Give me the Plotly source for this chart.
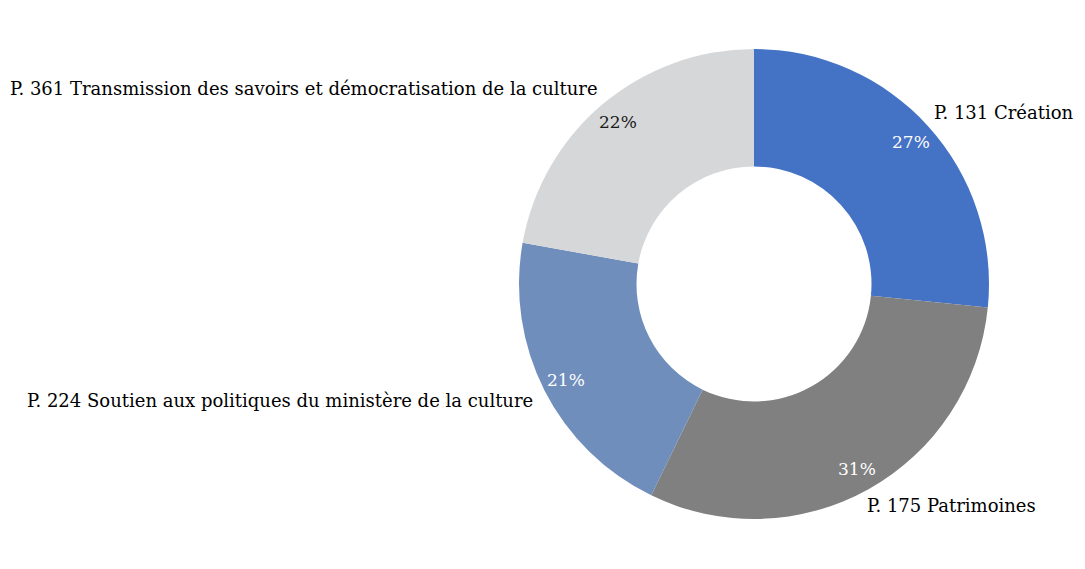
import math
import plotly.graph_objects as go

labels = ["P. 131 Création", "P. 175 Patrimoines",
          "P. 224 Soutien aux politiques du ministère de la culture",
          "P. 361 Transmission des savoirs et démocratisation de la culture"]
values = [26.6, 30.6, 20.6, 22.2]
colors = ["#4472C4", "#808080", "#6F8EBC", "#D6D7D9"]
pct_colors = ["white", "white", "white", "#1a1a1a"]

W, H = 1085, 569
cx, cy, R = 754, 284, 235
FONT = "DejaVu Serif"

fig = go.Figure(go.Pie(
    labels=labels, values=values, sort=False, direction="clockwise", rotation=0,
    hole=0.5, marker=dict(colors=colors, line=dict(width=0)),
    textinfo="none", hoverinfo="label+percent", showlegend=False,
    domain=dict(x=[(cx - R) / W, (cx + R) / W], y=[1 - (cy + R) / H, 1 - (cy - R) / H]),
))

# percentage labels at the slice mid-angle, near the outer edge
total = sum(values)
cum = 0
for v, col in zip(values, pct_colors):
    mid = (cum + v / 2) / total * 2 * math.pi
    cum += v
    px = cx + 0.9 * R * math.sin(mid)
    py = cy - 0.9 * R * math.cos(mid)
    fig.add_annotation(x=px / W, y=1 - py / H, xref="paper", yref="paper",
                       xanchor="center", yanchor="middle",
                       text=f"{round(v / total * 100)}%", showarrow=False,
                       font=dict(family=FONT, size=17, color=col))

# category labels
label_pos = [(932, 112, "left"), (865, 505, "left"), (535, 400, "right"), (600, 88, "right")]
for lab, (lx, ly, anc) in zip(labels, label_pos):
    fig.add_annotation(x=lx / W, y=1 - ly / H, xref="paper", yref="paper",
                       text=lab, showarrow=False, xanchor=anc, yanchor="middle",
                       font=dict(family=FONT, size=18, color="#000000"))

fig.update_layout(width=W, height=H, margin=dict(l=0, r=0, t=0, b=0),
                  paper_bgcolor="white", plot_bgcolor="white")
fig.write_html("out.html", post_script="document.body.style.margin='0';",
               config=dict(displayModeBar=False))
